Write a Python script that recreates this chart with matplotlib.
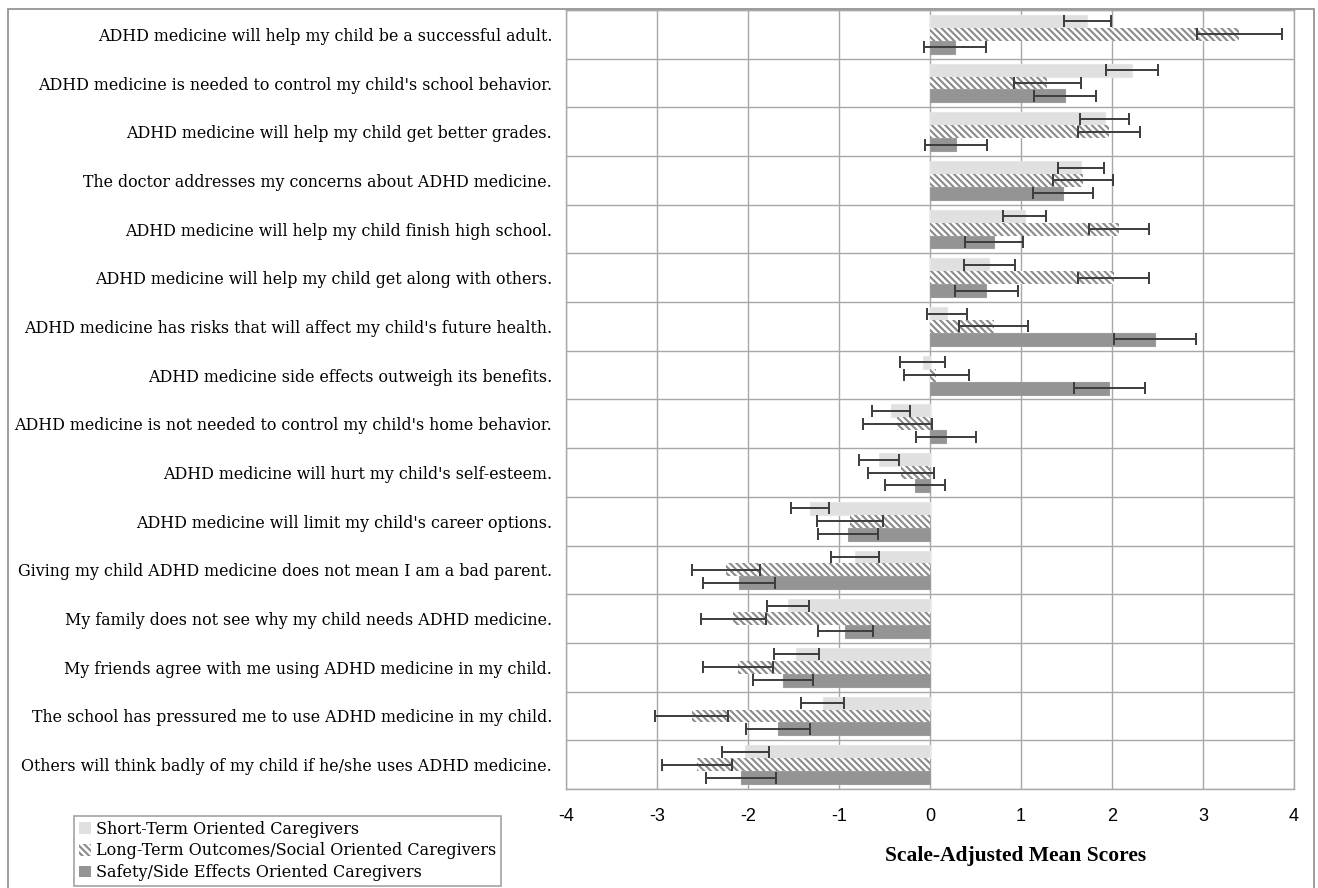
import matplotlib
matplotlib.use("Agg")
import matplotlib.pyplot as plt
import numpy as np
from matplotlib.patches import Patch, Rectangle

categories = [
    "ADHD medicine will help my child be a successful adult.",
    "ADHD medicine is needed to control my child's school behavior.",
    "ADHD medicine will help my child get better grades.",
    "The doctor addresses my concerns about ADHD medicine.",
    "ADHD medicine will help my child finish high school.",
    "ADHD medicine will help my child get along with others.",
    "ADHD medicine has risks that will affect my child's future health.",
    "ADHD medicine side effects outweigh its benefits.",
    "ADHD medicine is not needed to control my child's home behavior.",
    "ADHD medicine will hurt my child's self-esteem.",
    "ADHD medicine will limit my child's career options.",
    "Giving my child ADHD medicine does not mean I am a bad parent.",
    "My family does not see why my child needs ADHD medicine.",
    "My friends agree with me using ADHD medicine in my child.",
    "The school has pressured me to use ADHD medicine in my child.",
    "Others will think badly of my child if he/she uses ADHD medicine.",
]

series_names = [
    "Short-Term Oriented Caregivers",
    "Long-Term Outcomes/Social Oriented Caregivers",
    "Safety/Side Effects Oriented Caregivers",
]

short_term = [1.73, 2.22, 1.92, 1.66, 1.04, 0.65, 0.19, -0.08, -0.43, -0.56,
              -1.32, -0.82, -1.56, -1.47, -1.18, -2.03]
short_err = [0.26, 0.29, 0.27, 0.25, 0.24, 0.28, 0.22, 0.245, 0.21, 0.215,
             0.21, 0.265, 0.23, 0.245, 0.235, 0.26]

long_term = [3.40, 1.29, 1.97, 1.68, 2.08, 2.02, 0.70, 0.07, -0.36, -0.32,
             -0.88, -2.24, -2.16, -2.11, -2.62, -2.56]
long_err = [0.47, 0.37, 0.34, 0.33, 0.33, 0.39, 0.38, 0.36, 0.38, 0.36,
            0.36, 0.37, 0.355, 0.385, 0.405, 0.385]

safety = [0.27, 1.48, 0.29, 1.46, 0.70, 0.62, 2.47, 1.97, 0.18, -0.17,
          -0.90, -2.10, -0.93, -1.62, -1.67, -2.08]
safety_err = [0.34, 0.34, 0.34, 0.33, 0.32, 0.35, 0.45, 0.39, 0.33, 0.33,
              0.33, 0.40, 0.305, 0.33, 0.35, 0.385]

x_ticks = [-4, -3, -2, -1, 0, 1, 2, 3, 4]
x_label = "Scale-Adjusted Mean Scores"

plt.rcParams['hatch.linewidth'] = 1.5

W, H = 1318, 888
fig = plt.figure(figsize=(W / 100, H / 100), dpi=100)
ax = fig.add_axes([566 / W, 1 - 789 / H, (1294 - 566) / W, (789 - 10) / H])

n = len(categories)
y = np.arange(n)
h = 0.265
HATCH = "\\\\\\\\\\"

styles = [
    dict(color="#e0e0e0", edgecolor="#e6e6e6", linewidth=0.8),
    dict(color="white", edgecolor="#8a8a8a", linewidth=0, hatch=HATCH),
    dict(color="#949494", edgecolor="#9c9c9c", linewidth=0.8),
]
vals = [short_term, long_term, safety]
errs = [short_err, long_err, safety_err]
offsets = [-h, 0, h]

for v, e, off, st in zip(vals, errs, offsets, styles):
    ax.barh(y + off, v, height=h, zorder=2, **st)
for v, e, off in zip(vals, errs, offsets):
    ax.errorbar(v, y + off, xerr=e, fmt="none", ecolor="#3c3c3c",
                elinewidth=1.4, capsize=4.5, capthick=1.4, zorder=3)

ax.set_xlim(-4, 4)
ax.set_ylim(n - 0.5, -0.5)
ax.set_xticks(x_ticks)
ax.set_xticklabels([str(t) for t in x_ticks], fontsize=13,
                   family="Liberation Sans")
ax.set_yticks(y)
ax.set_yticklabels(categories, fontsize=11.4, family="DejaVu Serif")
ax.set_yticks(np.arange(-0.5, n, 1.0), minor=True)
ax.tick_params(axis="both", which="both", length=0)
ax.tick_params(axis="y", pad=10)
ax.tick_params(axis="x", pad=14)
ax.grid(True, axis="x", which="major", color="#a8a8a8", lw=1.0, zorder=0)
ax.grid(True, axis="y", which="minor", color="#a8a8a8", lw=1.0, zorder=0)
ax.set_axisbelow(True)
for s in ax.spines.values():
    s.set_color("#a8a8a8")
    s.set_linewidth(1.0)

ax.set_xlabel(x_label, fontsize=15.5, fontweight="bold",
              family="Liberation Serif")
ax.xaxis.set_label_coords((1016 - 566) / 728, -(856 - 789) / 779)
ax.xaxis.label.set_verticalalignment("center")

# outer frame
fig.add_artist(Rectangle((8 / W, -0.02), (1314 - 8) / W, 1 - 9 / H + 0.02,
                         transform=fig.transFigure, fill=False,
                         edgecolor="#8c8c8c", lw=1.2, clip_on=False))

handles = [
    Patch(facecolor="#e0e0e0", edgecolor="#e0e0e0", lw=0),
    Patch(facecolor="white", edgecolor="#8a8a8a", hatch=HATCH, lw=0),
    Patch(facecolor="#949494", edgecolor="#949494", lw=0),
]
leg = fig.legend(handles, series_names, loc="lower left",
                 bbox_to_anchor=(74 / W, 1 - 886 / H),
                 frameon=True, fancybox=False, edgecolor="#8c8c8c",
                 prop=dict(family="DejaVu Serif", size=11.5),
                 handlelength=0.75, handleheight=0.75, handletextpad=0.35,
                 labelspacing=0.3, borderpad=0.3, borderaxespad=0)
leg.get_frame().set_linewidth(1.2)

fig.savefig("out.png", dpi=100)
